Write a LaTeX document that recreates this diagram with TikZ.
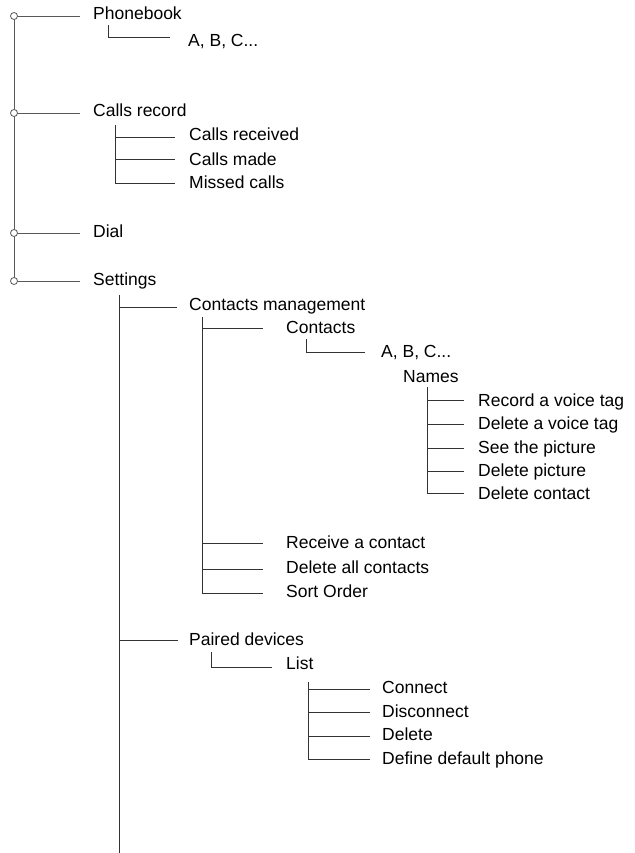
\documentclass[tikz,border=0pt]{standalone}
\usepackage{fontspec}
\setmainfont{Liberation Sans}
\begin{document}
\begin{tikzpicture}[x=1pt,y=-1pt,
  lbl/.style={anchor=base west,inner sep=0pt,font=\fontsize{17.5}{20}\selectfont},
  branch/.style={draw=black!80,line width=0.8pt},
  trunk/.style={draw=black!65,line width=0.9pt},
  knot/.style={circle,draw=black!65,fill=white,line width=0.8pt,inner sep=0pt,minimum size=7pt}]
\useasboundingbox (0,0) rectangle (634,853);
% level 0 texts
\node[lbl] (phone) at (93,20) {Phonebook};
\node[lbl] (abc1) at (188,47) {A, B, C...};
\node[lbl] (calls) at (93,117) {Calls record};
\node[lbl] (crec) at (189,141) {Calls received};
\node[lbl] (cmade) at (189,165) {Calls made};
\node[lbl] (cmiss) at (189,188) {Missed calls};
\node[lbl] (dial) at (93,237) {Dial};
\node[lbl] (sett) at (93,285) {Settings};
\node[lbl] (cman) at (189,310) {Contacts management};
\node[lbl] (cont) at (286,333) {Contacts};
\node[lbl] (abc2) at (381,357) {A, B, C...};
\node[lbl] (names) at (403,382) {Names};
\node[lbl] (rvt) at (478,406) {Record a voice tag};
\node[lbl] (dvt) at (478,429) {Delete a voice tag};
\node[lbl] (seep) at (478,453) {See the picture};
\node[lbl] (delp) at (478,476) {Delete picture};
\node[lbl] (delc) at (478,499) {Delete contact};
\node[lbl] (recv) at (286,548) {Receive a contact};
\node[lbl] (dall) at (286,573) {Delete all contacts};
\node[lbl] (sort) at (286,597) {Sort Order};
\node[lbl] (pair) at (189,645) {Paired devices};
\node[lbl] (list) at (286,669) {List};
\node[lbl] (conn) at (382,693) {Connect};
\node[lbl] (disc) at (382,717) {Disconnect};
\node[lbl] (dele) at (382,740) {Delete};
\node[lbl] (ddp) at (382,764) {Define default phone};
% main trunk
\coordinate (k1) at (14,16);
\coordinate (k2) at (14,113);
\coordinate (k3) at (14,233);
\coordinate (k4) at (14,281);
\draw[trunk] (k1) -- (k4);
\foreach \k in {k1,k2,k3,k4}{\draw[trunk] (\k) -- ++(66,0);}
\foreach \k in {k1,k2,k3,k4}{\node[knot] at (\k) {};}
% phonebook
\draw[branch] (108,25) |- (170,37);
% calls record
\draw[branch] (115,125) -- (115,183);
\foreach \y in {137,159,183}{\draw[branch] (115,\y) -- (175,\y);}
% settings
\draw[branch] (119,295) -- (119,853);
\draw[branch] (119,307) -- (177,307);
\draw[branch] (119,640) -- (178,640);
% contacts management
\draw[branch] (202,317) -- (202,593);
\foreach \y in {328,543,569,593}{\draw[branch] (202,\y) -- (263,\y);}
% contacts
\draw[branch] (306,339) |- (365,352);
% names
\draw[branch] (427,387) -- (427,493);
\foreach \y in {400,424,448,471,493}{\draw[branch] (427,\y) -- (464,\y);}
% paired devices
\draw[branch] (211,652) |- (272,667);
% list
\draw[branch] (308,682) -- (308,760);
\foreach \y in {689,712,736,759}{\draw[branch] (308,\y) -- (370,\y);}
\end{tikzpicture}
\end{document}
